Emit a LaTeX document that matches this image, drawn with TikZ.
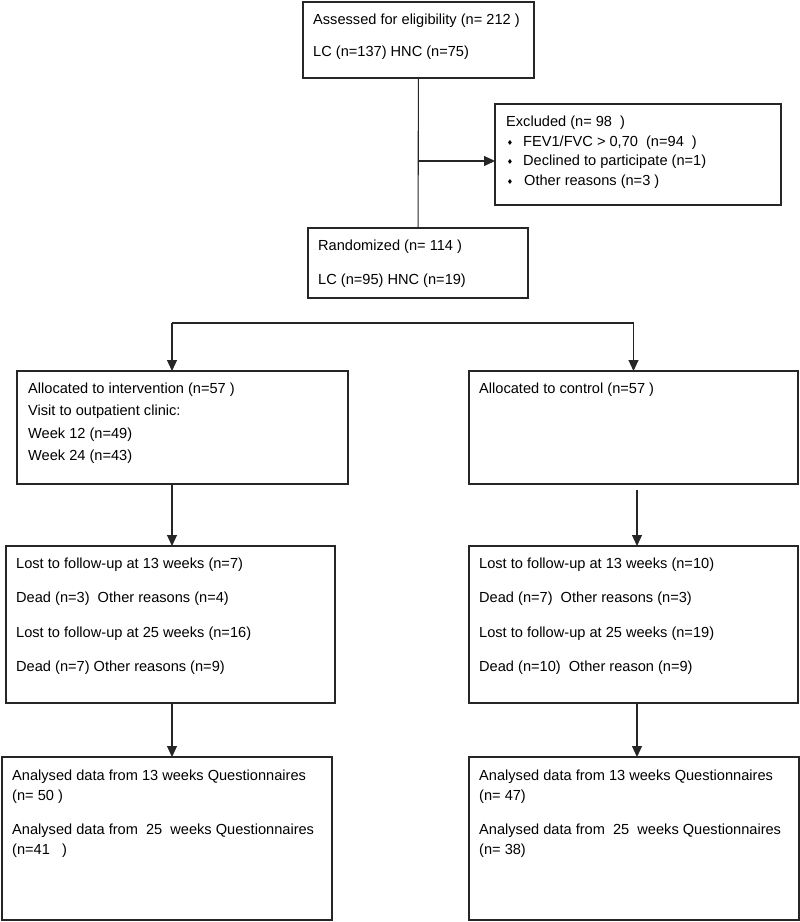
\documentclass[tikz,border=0pt]{standalone}
\usepackage{fontspec}
\setmainfont{Liberation Sans}
\newfontfamily\symfont{DejaVu Sans}
\usetikzlibrary{arrows.meta}

\begin{document}
\begin{tikzpicture}[x=1pt, y=-1pt,
		box/.style={draw=black!85, line width=1.1pt, anchor=north west, inner sep=0pt, outer sep=0pt},
		txt/.style={anchor=west, inner sep=0pt, font=\fontsize{14.6}{17}\selectfont},
		dot/.style={anchor=center, inner sep=0pt, font=\symfont\fontsize{7}{8}\selectfont},
		arr/.style={draw=black!85, line width=1.1pt, -{Triangle[length=11pt,width=10pt]}},
		ln/.style={draw=black!85, line width=1.1pt}]
			\useasboundingbox (0,0) rectangle (800,922);

			% boxes
			\node[box, minimum width=231pt, minimum height=76pt] (assess) at (303,2) {};
			\node[box, minimum width=286pt, minimum height=101pt] (excl) at (495,104) {};
			\node[box, minimum width=220pt, minimum height=70pt] (rand) at (308,228) {};
			\node[box, minimum width=331pt, minimum height=113pt] (interv) at (17,371) {};
			\node[box, minimum width=329pt, minimum height=113pt] (ctrl) at (469,371) {};
			\node[box, minimum width=329pt, minimum height=157pt] (lostI) at (6,546) {};
			\node[box, minimum width=329pt, minimum height=157pt] (lostC) at (469,546) {};
			\node[box, minimum width=330pt, minimum height=163pt] (anaI) at (2,757) {};
			\node[box, minimum width=330pt, minimum height=163pt] (anaC) at (469,757) {};

			% connectors
			\coordinate (split) at (418.5,161);
			\coordinate (bl) at (172,323);
			\coordinate (br) at (633.5,323);
			\coordinate (rc) at (637,490);
			\draw[ln] (assess) -- (rand);
			\draw[arr] (split) -- (split -| excl.west);
			\draw[ln] (bl) -- (br);
			\draw[arr] (bl) -- (bl |- interv.north);
			\draw[arr] (br) -- (br |- ctrl.north);
			\draw[arr] (bl |- interv.south) -- (bl |- lostI.north);
			\draw[arr] (rc) -- (rc |- lostC.north);
			\draw[arr] (bl |- lostI.south) -- (bl |- anaI.north);
			\draw[arr] (rc |- lostC.south) -- (rc |- anaC.north);

			% texts, top part
			\node[txt] (a1) at (313,21) {Assessed for eligibility (n= 212 )};
			\node[txt] (a2) at (313,53) {LC (n=137) HNC (n=75)};
			\node[txt] (e1) at (506,123) {Excluded (n= 98\ \ )};
			\node[txt] (e2) at (523,143) {FEV1/FVC > 0,70\ \ (n=94\ \ )};
			\node[txt] (e3) at (523,162) {Declined to participate (n=1)};
			\node[txt] (e4) at (524,182) {Other reasons (n=3 )};
			\foreach \y in {143,162,182}
				\node[dot] (d\y) at (510,\y) {♦};
			\node[txt] (r1) at (318,247) {Randomized (n= 114 )};
			\node[txt] (r2) at (318,281) {LC (n=95) HNC (n=19)};

			% allocation
			\node[txt] (i1) at (28,390) {Allocated to intervention (n=57 )};
			\node[txt] (i2) at (28,412) {Visit to outpatient clinic:};
			\node[txt] (i3) at (28,435) {Week 12 (n=49)};
			\node[txt] (i4) at (28,457) {Week 24 (n=43)};
			\node[txt] (c1) at (479,390) {Allocated to control (n=57 )};

			% follow-up
			\node[txt] (li1) at (16,565) {Lost to follow-up at 13 weeks (n=7)};
			\node[txt] (li2) at (16,599) {Dead (n=3)\ \ Other reasons (n=4)};
			\node[txt] (li3) at (16,634) {Lost to follow-up at 25 weeks (n=16)};
			\node[txt] (li4) at (16,668) {Dead (n=7) Other reasons (n=9)};
			\node[txt] (lc1) at (479,565) {Lost to follow-up at 13 weeks (n=10)};
			\node[txt] (lc2) at (479,599) {Dead (n=7)\ \ Other reasons (n=3)};
			\node[txt] (lc3) at (479,634) {Lost to follow-up at 25 weeks (n=19)};
			\node[txt] (lc4) at (479,668) {Dead (n=10)\ \ Other reason (n=9)};

			% analysis
			\node[txt] (ai1) at (12,777) {Analysed data from 13 weeks Questionnaires};
			\node[txt] (ai2) at (12,797) {(n= 50 )};
			\node[txt] (ai3) at (12,831) {Analysed data from\ \ 25\ \ weeks Questionnaires};
			\node[txt] (ai4) at (12,851) {(n=41\ \ \ )};
			\node[txt] (ac1) at (479,777) {Analysed data from 13 weeks Questionnaires};
			\node[txt] (ac2) at (479,797) {(n= 47)};
			\node[txt] (ac3) at (479,831) {Analysed data from\ \ 25\ \ weeks Questionnaires};
			\node[txt] (ac4) at (479,851) {(n= 38)};
		\end{tikzpicture}
\end{document}
